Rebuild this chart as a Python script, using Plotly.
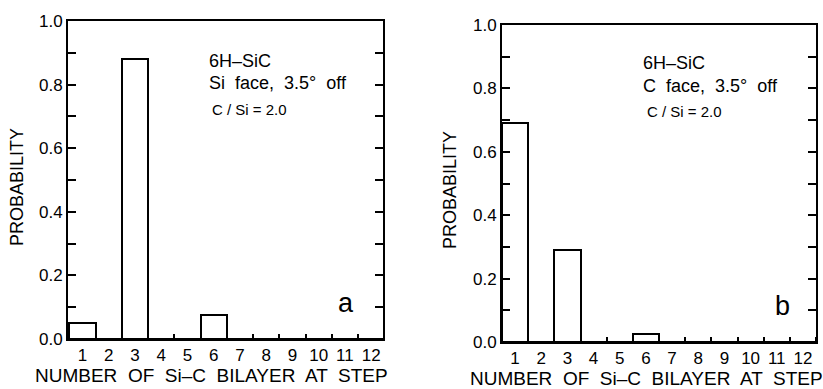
import plotly.graph_objects as go

W, H = 823, 389
categories = list(range(1, 13))
prob_si_face = [0.05, 0, 0.88, 0, 0, 0.075, 0, 0, 0, 0, 0, 0]
prob_c_face = [0.69, 0, 0.29, 0, 0, 0.025, 0, 0, 0, 0, 0, 0]
x_tick_labels = [str(c) for c in categories]
bin_edges = [c + 0.5 for c in range(0, 13)]
y_tick_vals = [round(i * 0.1, 1) for i in range(11)]
y_tick_text = ["0.0", "", "0.2", "", "0.4", "", "0.6", "", "0.8", "", "1.0"]
x_title = "NUMBER  OF  Si\u2013C  BILAYER  AT  STEP"
y_title = "PROBABILITY"
labels_a = ["6H\u2013SiC", "Si  face,  3.5\u00b0  off", "C / Si = 2.0", "a"]
labels_b = ["6H\u2013SiC", "C  face,  3.5\u00b0  off", "C / Si = 2.0", "b"]

FONT = "Liberation Sans, Arial, sans-serif"

def px(x):
    return x / W

def py(y):
    return 1 - y / H

fig = go.Figure()
for vals, xa, ya in [(prob_si_face, "x", "y"), (prob_c_face, "x2", "y2")]:
    fig.add_trace(go.Bar(
        x=categories, y=vals, width=1.0, xaxis=xa, yaxis=ya,
        marker=dict(color="white", line=dict(color="black", width=2)),
        showlegend=False,
    ))

def xaxis(domain, rng):
    return dict(
        domain=domain, range=rng, tickmode="array", tickvals=categories,
        ticktext=x_tick_labels, ticks="", showgrid=False, zeroline=False,
        showline=True, linecolor="black", linewidth=2, mirror=True,
        automargin=False,
        tickfont=dict(family=FONT, size=17, color="black"),
        minor=dict(tickvals=bin_edges, ticks="inside", ticklen=5,
                   tickcolor="black", tickwidth=1.5, showgrid=False),
        fixedrange=True,
    )

def yaxis(domain, anchor):
    return dict(
        domain=domain, range=[0, 1.0], tickmode="array", tickvals=y_tick_vals,
        ticktext=y_tick_text, ticks="inside", ticklen=8, tickwidth=1.5,
        tickcolor="black", showgrid=False, zeroline=False, showline=True,
        linecolor="black", linewidth=2, mirror="ticks", anchor=anchor,
        automargin=False,
        tickfont=dict(family=FONT, size=17, color="black"), fixedrange=True,
    )

fig.update_layout(
    template="none",
    width=W, height=H, margin=dict(l=0, r=0, t=0, b=0, pad=0),
    paper_bgcolor="white", plot_bgcolor="white", bargap=0,
    xaxis=dict(xaxis([px(68), px(383)], [0.45, 12.45]), anchor="y"),
    yaxis=yaxis([py(339), py(21)], "x"),
    xaxis2=dict(xaxis([px(502), px(816)], [0.5, 12.5]), anchor="y2"),
    yaxis2=yaxis([py(342), py(25)], "x2"),
)

ann = []
def text(x, y, s, size, anchor="left", angle=0):
    ann.append(dict(x=px(x), y=py(y), xref="paper", yref="paper", text=s,
                    showarrow=False, xanchor=anchor, yanchor="middle",
                    textangle=angle,
                    font=dict(family=FONT, size=size, color="black")))

# panel a
text(207, 61, labels_a[0], 18)
text(207, 83, labels_a[1], 18)
text(210, 109, labels_a[2], 15)
text(336, 303, labels_a[3], 27)
text(17, 187, y_title, 18, "center", -90)
text(211, 375, x_title, 19, "center")
# panel b
text(641, 63, labels_b[0], 18)
text(641, 86, labels_b[1], 18)
text(645, 112, labels_b[2], 15)
text(773, 306, labels_b[3], 27)
text(450, 190, y_title, 18, "center", -90)
text(646, 378, x_title, 19, "center")

fig.update_layout(annotations=ann)
fig.write_html("out.html")
